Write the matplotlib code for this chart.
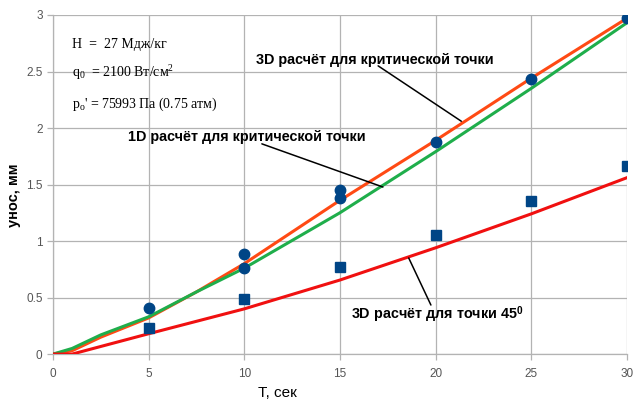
import matplotlib
matplotlib.use("Agg")
import matplotlib.pyplot as plt

# Experimental points (time, s -> ablation, mm)
t_crit_pts = [5, 10, 10, 15, 15, 20, 25, 30]
abl_crit_pts = [0.41, 0.885, 0.76, 1.45, 1.38, 1.875, 2.43, 2.97]
t_45_pts = [5, 10, 15, 20, 25, 30]
abl_45_pts = [0.23, 0.49, 0.77, 1.05, 1.355, 1.66]

# Computed curves
t_calc = [0, 1, 2.5, 5, 7.5, 10, 15, 20, 25, 30]
abl_3d_crit = [0.0, 0.03, 0.15, 0.32, 0.55, 0.80, 1.36, 1.89, 2.44, 2.97]
abl_1d_crit = [0.0, 0.05, 0.17, 0.33, 0.55, 0.76, 1.25, 1.79, 2.35, 2.93]
t_45_calc = [0, 1, 5, 10, 15, 20, 25, 30]
abl_3d_45 = [0.0, 0.0, 0.18, 0.40, 0.655, 0.94, 1.24, 1.56]

x_ticks = [0, 5, 10, 15, 20, 25, 30]
y_ticks = [0, 0.5, 1, 1.5, 2, 2.5, 3]
y_tick_labels = ["0", "0.5", "1", "1.5", "2", "2.5", "3"]

BLUE = "#004586"
ORANGE = "#ff4a14"
GREEN = "#1fae4b"
RED = "#f01010"
GRID = "#b3b3b3"

plt.rcParams["font.family"] = ["Liberation Sans", "DejaVu Sans"]
plt.rcParams["mathtext.fontset"] = "custom"
plt.rcParams["mathtext.rm"] = "Liberation Serif"
plt.rcParams["mathtext.it"] = "Liberation Serif:italic"
plt.rcParams["mathtext.bf"] = "Liberation Sans:bold"

fig = plt.figure(figsize=(6.35, 4.01), dpi=100)
ax = fig.add_axes([0.0835, 0.117, 0.9035, 0.8456])

ax.plot(t_calc, abl_3d_crit, color=ORANGE, lw=2.2, zorder=3)
ax.plot(t_calc, abl_1d_crit, color=GREEN, lw=2.2, zorder=3)
ax.plot(t_45_calc, abl_3d_45, color=RED, lw=2.2, zorder=3)
ax.plot(t_crit_pts, abl_crit_pts, ls="none", marker="o", ms=7.5,
        color=BLUE, zorder=4)
ax.plot(t_45_pts, abl_45_pts, ls="none", marker="s", ms=7,
        color=BLUE, zorder=4)

ax.set_xlim(0, 30)
ax.set_ylim(0, 3)
ax.set_xticks(x_ticks)
ax.set_yticks(y_ticks)
ax.set_yticklabels(y_tick_labels)
ax.grid(True, color=GRID, lw=0.9)
ax.set_axisbelow(True)
for side in ("top", "right"):
    ax.spines[side].set_visible(False)
for side in ("left", "bottom"):
    ax.spines[side].set_color(GRID)
    ax.spines[side].set_linewidth(0.9)
ax.tick_params(axis="both", colors=GRID, length=4, width=0.9,
               labelcolor="#555555", labelsize=8.5)
ax.tick_params(axis="x", pad=6)

ax.set_xlabel("Т, сек", fontsize=11)
ax.xaxis.set_label_coords(0.392, -0.095)
ax.set_ylabel("унос, мм", fontsize=10.5, fontweight="bold")
ax.yaxis.set_label_coords(-0.056, 0.469)

# Parameters block
serif = ["Liberation Serif", "DejaVu Serif"]
ax.text(1.0, 2.71, "H  =  27 Мдж/кг", family=serif, fontsize=10)
ax.text(1.0, 2.45, r"q$_0$  = 2100 Вт/см$^2$", family=serif, fontsize=10)
ax.text(1.0, 2.18, r"p$_\mathrm{o}$' = 75993 Па (0.75 атм)", family=serif,
        fontsize=10)

# Curve labels with leader lines
lbl = dict(fontsize=10.4, fontweight="bold", color="black")
leader = dict(arrowstyle="-", color="black", lw=1.1, shrinkA=0, shrinkB=0)

ax.text(10.6, 2.565, "3D расчёт для критической точки", **lbl)
ax.annotate("", xy=(21.35, 2.06), xytext=(17.0, 2.55), arrowprops=leader)

ax.text(3.9, 1.885, "1D расчёт для критической точки", **lbl)
ax.annotate("", xy=(17.25, 1.478), xytext=(10.92, 1.86), arrowprops=leader)

ax.text(15.6, 0.31, r"3D расчёт для точки 45$^{\mathbf{0}}$", **lbl)
ax.annotate("", xy=(18.6, 0.85), xytext=(19.76, 0.434), arrowprops=leader)

fig.savefig("out.png", dpi=100, facecolor="white")
